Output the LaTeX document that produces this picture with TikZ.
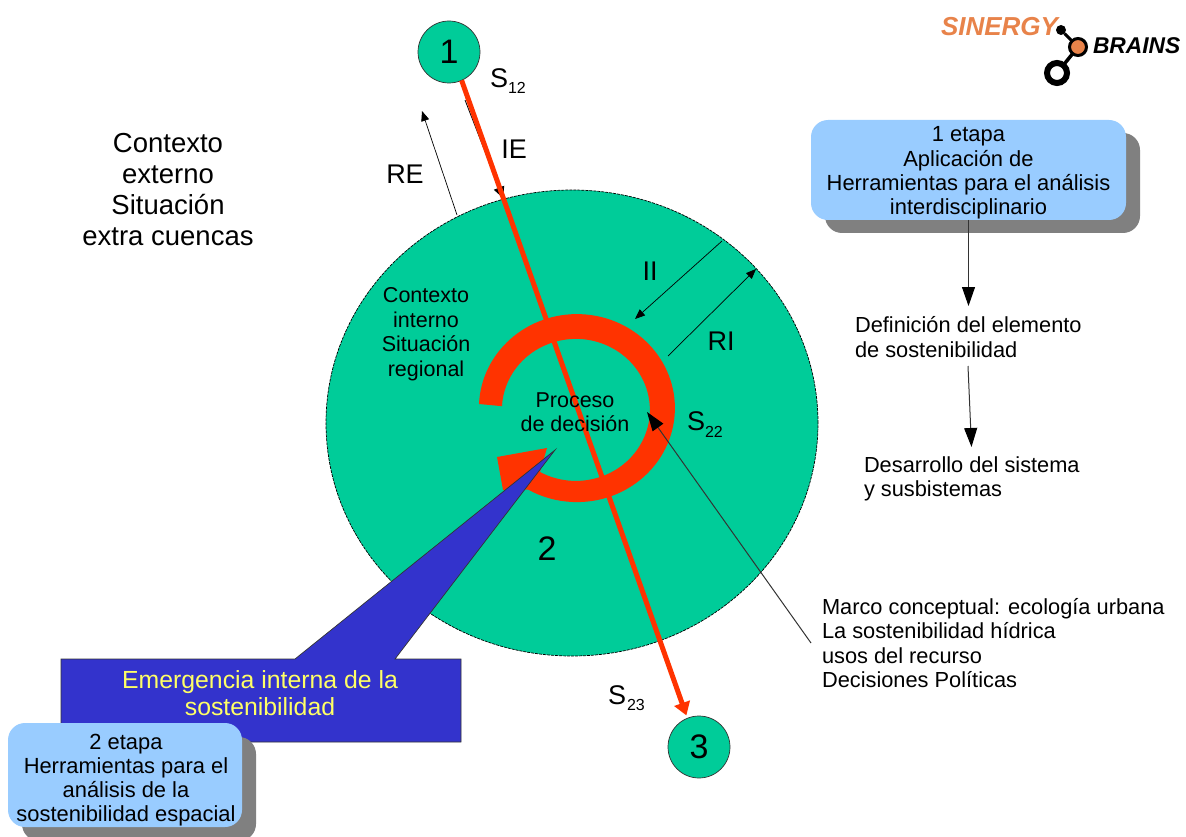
\documentclass[tikz,border=0pt]{standalone}
\usepackage{fontspec}
\setmainfont{Liberation Sans}
\usetikzlibrary{arrows.meta,shapes.geometric}
\definecolor{teal1}{HTML}{00CC99}
\definecolor{redo}{HTML}{FF3300}
\definecolor{blue1}{HTML}{3333CC}
\definecolor{sky}{HTML}{99CCFF}
\definecolor{logoor}{HTML}{E8834A}
\definecolor{yel}{HTML}{FFFF66}
\newcommand{\fs}[2]{\fontsize{#1pt}{#2pt}\selectfont}
\tikzset{
  x=1pt,y=-1pt,
  every node/.style={inner sep=0pt,outer sep=0pt},
  stagecircle/.style={circle,draw=black!80,line width=0.7pt,fill=teal1,minimum size=62pt,font=\fs{34}{36}},
  label27/.style={font=\fs{27}{30}},
  txt21/.style={font=\fs{21.5}{24.5},align=center},
  txtleft/.style={font=\fs{21.8}{24.5},align=left,anchor=west},
  etapa/.style={rectangle,rounded corners=17pt,fill=sky},
  etapatext/.style={font=\fs{21.9}{24.2},align=center},
  shadowbox/.style={rectangle,rounded corners=17pt,fill=black!50},
  thin arrow/.style={draw=black,line width=0.7pt,-{Triangle[length=10pt,width=8pt]}},
  big arrow/.style={draw=black!80,line width=1pt,-{Triangle[length=19pt,width=13pt,color=black]}},
}
\begin{document}
\begin{tikzpicture}
\useasboundingbox (0,0) rectangle (1186,837);
% interior context
\node[ellipse,draw=black,dashed,dash pattern=on 3pt off 1pt,line width=0.7pt,fill=teal1,minimum width=492pt,minimum height=466pt] (inner) at (572,423) {};
% decision cycle
\fill[redo] (479,404) arc[start angle=182.5,end angle=480,x radius=98,y radius=94]
  -- (503,490) -- (497,457) -- (547,448) -- (540,472)
  arc[start angle=479,end angle=183,x radius=74,y radius=71] -- cycle;
% stage circles
\node[stagecircle] (n1) at (449,52) {1};
\node[stagecircle] (n3) at (699,747) {3};
% named ends
\coordinate (ieA) at (465,100);
\coordinate (ieB) at (503,198);
\coordinate (reA) at (457,215);
\coordinate (reB) at (422,111);
\coordinate (iiA) at (722,241);
\coordinate (iiB) at (635,319);
\coordinate (riA) at (668,356);
\coordinate (riB) at (756,269);
\coordinate (mcA) at (811,643);
\coordinate (mcB) at (647,412);
% thin arrows
\draw[draw=black,line width=0.8pt,-{Triangle[length=11pt,width=11pt]}] (ieA) -- (ieB);
\draw[thin arrow] (reA) -- (reB);
\draw[thin arrow] (iiA) -- (iiB);
\draw[thin arrow] (riA) -- (riB);
\draw[big arrow] (mcA) -- (mcB);
% main line
\draw[redo,line width=5pt,shorten >=3pt,-{Triangle[length=13pt,width=16pt]}] (n1.-66) -- (n3.112);
% callout
\draw[fill=blue1,draw=black!80,line width=0.7pt] (61,659) -- (295,659) -- (555,450) -- (395,659) -- (461,659) -- (461,742) -- (61,742) -- cycle;
\node[font=\fs{24.8}{27},align=center,text=yel] (em) at (260,693) {Emergencia interna de la\\sostenibilidad};
% stage boxes
\node[shadowbox,minimum width=315pt,minimum height=100pt] (s1) at (982.5,183) {};
\node[etapa,minimum width=315pt,minimum height=100pt] (b1) at (968.5,170) {};
\node[etapatext] (b1t) at (968.5,173) {1 etapa\\Aplicación de\\Herramientas para el análisis\\interdisciplinario};
\node[shadowbox,minimum width=234pt,minimum height=104pt] (s2) at (139,789) {};
\node[etapa,minimum width=234pt,minimum height=104pt] (b2) at (125,775) {};
\node[etapatext] (b2t) at (126,780) {2 etapa\\Herramientas para el\\análisis de la\\sostenibilidad espacial};
% right column
\node[txtleft] (t1) at (855,337) {Definición del elemento\\de sostenibilidad};
\node[txtleft] (t2) at (864,479) {Desarrollo del sistema\\y susbistemas};
\node[txtleft] (t3) at (822,643) {Marco conceptual: ecología urbana\\La sostenibilidad hídrica\\usos del recurso\\Decisiones Políticas};
\coordinate (a2) at (968.5,306);
\coordinate (a3) at (968,366);
\coordinate (a4) at (971.5,447);
\draw[big arrow] (b1.south) -- (a2);
\draw[big arrow] (a3) -- (a4);
% other labels
\node[font=\fs{27.5}{31},align=center] (ce) at (168,189.5) {Contexto\\externo\\Situación\\extra cuencas};
\node[txt21] (ci) at (426,334) {Contexto\\interno\\Situación\\regional};
\node[txt21] (pd) at (575,412) {Proceso\\de decisión};
\node[font=\fs{34}{36}] (n2) at (547,549) {2};
\node[label27] (ie) at (514,149) {IE};
\node[label27] (re) at (405,174) {RE};
\node[label27] (ii) at (650,271) {II};
\node[label27] (ri) at (721,341) {RI};
\node[label27,anchor=west] (s12) at (490,78) {S};
\node[font=\fs{16}{18},anchor=west] (s12b) at (508,88) {12};
\node[label27,anchor=west] (s22) at (687,421) {S};
\node[font=\fs{16}{18},anchor=west] (s22b) at (705,432) {22};
\node[label27,anchor=west] (s23) at (608,695) {S};
\node[font=\fs{16}{18},anchor=west] (s23b) at (627,705) {23};
% logo
\node[font=\bfseries\itshape\fs{26}{28},text=logoor,anchor=west] (lg1) at (941,27) {SINERGY};
\node[font=\bfseries\itshape\fs{22.8}{24},anchor=west] (lg2) at (1093,46) {BRAINS};
\node[circle,fill=black,minimum size=10pt] (ld) at (1061,30) {};
\node[circle,draw=black,line width=3pt,fill=logoor,minimum size=17pt] (lo) at (1078,47) {};
\node[circle,draw=black,line width=6pt,fill=white,minimum size=20pt] (lr) at (1057,73) {};
\draw[line width=3pt] (ld) -- (lo);
\draw[line width=3.5pt] (lo) -- (lr);
\end{tikzpicture}
\end{document}
